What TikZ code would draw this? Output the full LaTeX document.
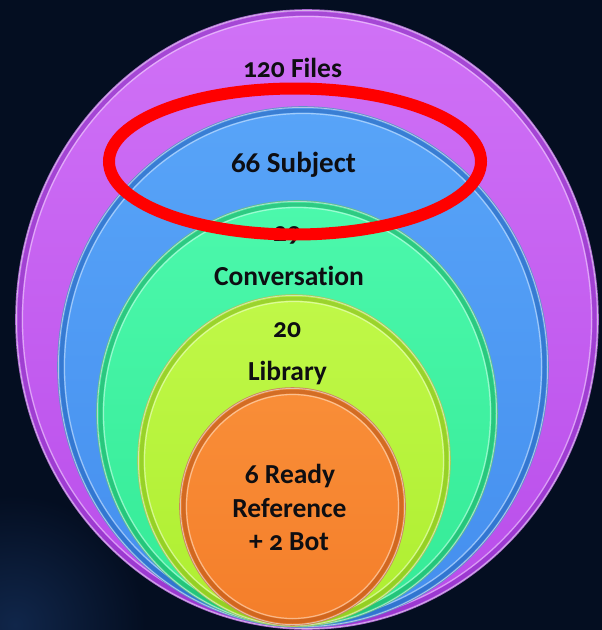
\documentclass[tikz,border=0pt]{standalone}
\usepackage{fontspec}
\setmainfont{Carlito}[Numbers=OldStyle, Ligatures=NoCommon]
\usetikzlibrary{shapes.geometric}
\definecolor{bg}{HTML}{040E21}
\definecolor{glow}{HTML}{10264A}
\definecolor{txt}{HTML}{0E0E12}
\definecolor{hl}{HTML}{FF0000}
\definecolor{puT}{HTML}{D072F6}\definecolor{puB}{HTML}{B84CEA}\definecolor{puD}{HTML}{8428BA}
\definecolor{blT}{HTML}{58A4F8}\definecolor{blB}{HTML}{448EEE}\definecolor{blD}{HTML}{2260B6}
\definecolor{grT}{HTML}{4CF8AC}\definecolor{grB}{HTML}{34EA96}\definecolor{grD}{HTML}{18A562}
\definecolor{yeT}{HTML}{C0F848}\definecolor{yeB}{HTML}{AEEE30}\definecolor{yeD}{HTML}{7EB61A}
\definecolor{orT}{HTML}{F98E38}\definecolor{orB}{HTML}{F47E2A}\definecolor{orD}{HTML}{B45216}
\tikzset{
  ringnode/.style={ellipse, inner sep=0pt, outer sep=0pt},
  lbl/.style={anchor=base, text=txt, inner sep=0pt,
    font=\bfseries\fontsize{27.5}{33}\selectfont},
  biglbl/.style={lbl, font=\bfseries\fontsize{29}{35}\selectfont},
  redring/.style={draw=hl, line width=12},
}
\newcommand\bevelring[9]{% name, cx, cy, rx, ry, top, bottom, dark
  \node[ringnode, minimum width={2*#4}, minimum height={2*#5},
        top color=#6, bottom color=#7, draw=#8!70!white, line width=1.6] (#1) at (#2,#3) {};
  \draw[#8, line width=4, opacity=.55] (#1.center) ellipse [x radius={#4-3.5}, y radius={#5-3.5}];
  \draw[white, line width=1.2, opacity=.45] (#1.center) ellipse [x radius={#4-6.5}, y radius={#5-6.5}];
  \draw[white, line width=0.8, opacity=.5] (#1.center) ellipse [x radius={#4-0.4}, y radius={#5-0.4}];
}
\begin{document}
\begin{tikzpicture}[x=1pt, y=-1pt]
  \useasboundingbox (0,0) rectangle (602,630);
  \fill[bg] (0,0) rectangle (602,630);
  \begin{scope}
    \clip (0,0) rectangle (602,630);
    \shade[inner color=glow, outer color=bg] (15,625) circle [radius=130];
  \end{scope}

  \bevelring{files}{307}{319.5}{291}{309.5}{puT}{puB}{puD}{}
  \bevelring{subject}{303}{367}{245}{260}{blT}{blB}{blD}{}
  \bevelring{conv}{297}{413.5}{200}{212.5}{grT}{grB}{grD}{}
  \bevelring{lib}{294}{460.5}{156}{165.5}{yeT}{yeB}{yeD}{}
  \bevelring{ready}{292.5}{506.5}{112.5}{118.5}{orT}{orB}{orD}{}

  \node[lbl] (tfiles) at (292.5,77) {120 Files};
  \node[biglbl] (tsubject) at (293.5,172) {66 Subject};
  \node[lbl] (tconvnum) at (287,241) {29};
  \node[lbl] (tconv) at (289,285) {Conversation};
  \node[lbl] (tlibnum) at (287,337) {20};
  \node[lbl] (tlib) at (287.5,380) {Library};
  \node[lbl] (tready) at (290,483) {6 Ready};
  \node[lbl] (tref) at (289.5,517) {Reference};
  \node[lbl] (tbot) at (289,550) {+ 2 Bot};

  \node[ringnode, redring, minimum width=372, minimum height=146] (mark) at (295,161.5) {};
\end{tikzpicture}
\end{document}
